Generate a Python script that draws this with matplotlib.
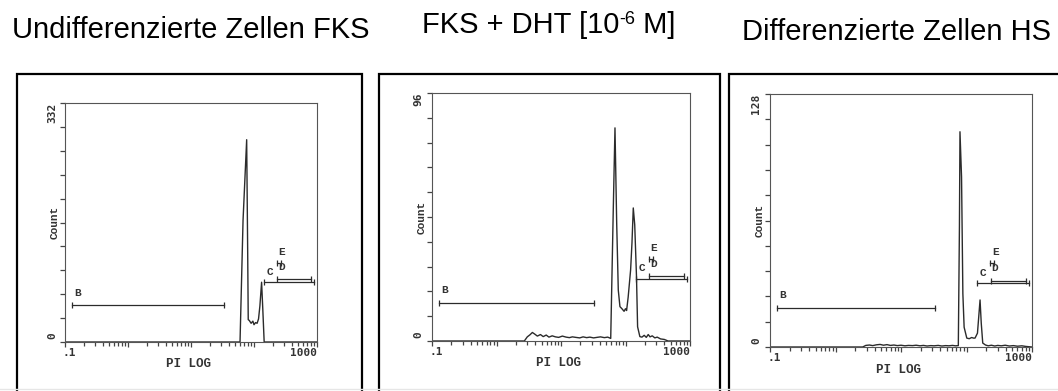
import matplotlib
matplotlib.use('Agg')
import matplotlib.pyplot as plt
from matplotlib.patches import Rectangle
from matplotlib.ticker import LogLocator
import numpy as np

# Panel 1: undifferentiated cells (FKS)
pi1 = [0.1, 60, 67, 76.5, 79.4, 81, 84, 90, 96, 100, 106, 112, 118, 124, 132, 138, 145, 1000]
cnt1 = [0, 0, 169, 281, 124, 31, 30, 26, 29, 24, 27, 26, 32, 50, 83, 45, 0, 0]
ymax1 = 332

# Panel 2: FKS + DHT
pi2 = [0.1, 2.7, 3.0, 3.3, 3.6, 3.9, 4.3, 4.8, 5.3, 5.9, 6.5, 7.3, 8.2, 9.2, 10.5,
       12, 13.5, 15, 17, 19.5, 22, 25, 28, 32, 36, 41, 47, 53, 59,
       64.6, 68.7, 73, 77.3, 82, 88, 95, 100, 104, 110, 120, 126, 132, 139, 148,
       154, 167, 180, 195, 210, 225, 240, 260, 285, 310, 350, 400, 457, 1000]
cnt2 = [0, 0, 1.6, 2.4, 3.3, 2.7, 1.9, 2.5, 1.7, 2.3, 1.5, 2.0, 1.6, 1.4, 1.9,
        1.5, 1.3, 1.6, 1.4, 1.2, 1.6, 1.3, 1.5, 1.2, 1.4, 1.6, 1.3, 1.5, 1.0,
        50.7, 82.5, 45.7, 19.7, 13.3, 12.5, 11.5, 12.5, 11.8, 17, 27.5, 38, 51.5, 45, 25,
        5.5, 1.7, 1.5, 2.2, 1.4, 2.5, 1.6, 2.0, 1.2, 1.5, 0.8, 0.6, 0, 0]
ymax2 = 96

# Panel 3: differentiated cells (HS)
pi3 = [0.1, 2.6, 2.9, 3.3, 3.7, 4.2, 4.8, 5.4, 6.1, 6.9, 7.8, 8.8, 10, 11.5, 13,
       15, 17, 19.5, 22, 25, 28.5, 32, 37, 42, 48, 54, 61, 68, 75,
       78, 79.5, 84, 88, 92, 101, 110, 120, 128, 135, 147, 161, 168, 177,
       195, 215, 240, 270, 300, 340, 390, 450, 520, 600, 700, 800, 1000]
cnt3 = [0, 0, 0.8, 1.0, 0.7, 1.1, 1.3, 0.9, 1.2, 0.8, 1.0, 0.7, 0.9, 0.6, 0.8,
        0.7, 0.9, 0.6, 0.8, 0.5, 0.7, 0.6, 0.8, 0.5, 0.7, 0.6, 0.8, 0.6, 0.7,
        61, 108.9, 86, 27, 10, 4.5, 4.2, 4.8, 4.5, 4.5, 7, 23.8, 12, 2,
        1.0, 0.6, 0.9, 0.5, 0.8, 0.6, 0.9, 0.5, 0.7, 0.4, 0.6, 0.3, 0]
ymax3 = 128

# gates (PI LOG range)
gate_names = ['B', 'C', 'D', 'E']
gate_lo = [0.13, 145, 235, 232]
gate_hi = [33, 900, 800, 265]

titles = ['Undifferenzierte Zellen FKS', 'FKS + DHT [10', 'Differenzierte Zellen HS']

W, H = 1058, 391
fig = plt.figure(figsize=(W / 100, H / 100), dpi=100)

def fx(px):
    return px / W

def fy(py):
    return 1 - py / H

# outer frames around each scanned histogram
for x0, x1 in [(17, 362), (379, 720), (729, 1075)]:
    fig.add_artist(Rectangle((fx(x0), fy(420)), fx(x1) - fx(x0), (420 - 74) / H,
                             transform=fig.transFigure, fill=False, ec='black', lw=1.6))
fig.add_artist(plt.Line2D([0, 1], [fy(389), fy(389)], transform=fig.transFigure,
                          color='#e6e6e6', lw=1))

mono = dict(family='Liberation Mono', weight='bold', color='#333333')
digits = dict(family='DejaVu Sans Mono', weight='bold', color='#333333')
ink = '#2b2b2b'

axes_px = [(65, 317, 103, 342), (432, 690, 93, 341), (770, 1032, 94, 347)]
data = [(pi1, cnt1, ymax1), (pi2, cnt2, ymax2), (pi3, cnt3, ymax3)]

for (l, r, t, b), (xs, ys, ymax) in zip(axes_px, data):
    assert len(xs) == len(ys)
    ax = fig.add_axes([fx(l), fy(b), (r - l) / W, (b - t) / H])
    ax.plot(xs, ys, color=ink, lw=1.0)
    ax.set_xscale('log')
    ax.set_xlim(0.1, 1000)
    ax.set_ylim(0, ymax)
    for s in ax.spines.values():
        s.set_color('#555555')
        s.set_linewidth(0.8)
    ax.xaxis.set_major_locator(LogLocator(base=10))
    ax.xaxis.set_minor_locator(LogLocator(base=10, subs=range(2, 10)))
    ax.set_yticks(np.linspace(0, ymax, 11))
    ax.tick_params(which='both', direction='out', color='#444444', width=0.9,
                   labelbottom=False, labelleft=False, top=False, right=False)
    ax.tick_params(which='major', length=3.5)
    ax.tick_params(which='minor', length=3)

    ax.text(-0.01, -0.025, '.1', transform=ax.transAxes, ha='left', va='top', size=8, **digits)
    ax.text(1.0, -0.025, '1000', transform=ax.transAxes, ha='right', va='top', size=8, **digits)
    ax.text(0.49, -0.066, 'PI LOG', transform=ax.transAxes, ha='center', va='top', size=9, **mono)
    ax.text(-0.04, 0.5, 'Count', transform=ax.transAxes, rotation=90, ha='center', va='center',
            size=8, **mono)
    ax.text(-0.052, 1.0, str(ymax), transform=ax.transAxes, rotation=90, ha='center', va='top',
            size=8, **digits)
    ax.text(-0.052, 0.012, '0', transform=ax.transAxes, rotation=90, ha='center', va='bottom',
            size=8, **digits)

    # gate markers
    tr = ax.get_xaxis_transform()
    gate_y = [0.155, 0.251, 0.262, 0.332]
    for name, lo, hi, gy in zip(gate_names, gate_lo, gate_hi, gate_y):
        ax.plot([lo, hi], [gy, gy], transform=tr, color=ink, lw=0.9,
                marker='|', ms=5 if name != 'E' else 4, mew=0.9, clip_on=False)
    ax.text(gate_lo[0] * 1.2, 0.205, 'B', transform=tr, ha='center', va='center', size=8, **mono)
    ax.text(gate_lo[1] * 1.24, 0.294, 'C', transform=tr, ha='center', va='center', size=8, **mono)
    ax.text(gate_lo[2] * 1.15, 0.312, 'D', transform=tr, ha='center', va='center', size=8, **mono)
    ax.text(gate_lo[3] * 1.18, 0.375, 'E', transform=tr, ha='center', va='center', size=8, **mono)

# panel titles
tfont = dict(family='Liberation Sans', size=21, color='black')
fig.text(fx(12), fy(38), titles[0], ha='left', va='baseline', **tfont)
fig.text(fx(742), fy(40), titles[2], ha='left', va='baseline', **tfont)
t1 = fig.text(fx(422), fy(33), titles[1], ha='left', va='baseline', **tfont)
renderer = fig.canvas.get_renderer()
bb = t1.get_window_extent(renderer)
t2 = fig.text(bb.x1 / W, fy(24), '-6', ha='left', va='baseline',
              family='Liberation Sans', size=13, color='black')
bb2 = t2.get_window_extent(renderer)
fig.text(bb2.x1 / W, fy(33), ' M]', ha='left', va='baseline', **tfont)

fig.savefig('out.png', dpi=100)
